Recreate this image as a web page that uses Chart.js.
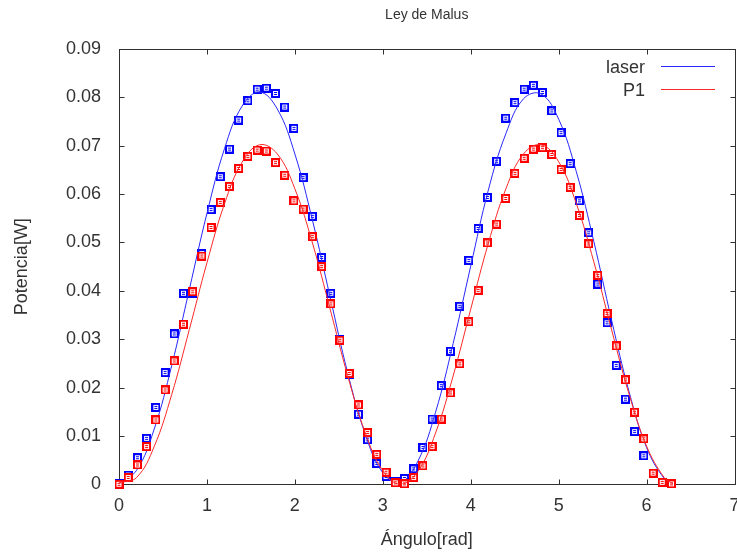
<!DOCTYPE html>
<html>
<head>
<meta charset="utf-8">
<script src="https://cdn.jsdelivr.net/npm/chart.js@4"></script>
<style>
html, body { margin: 0; padding: 0; background: #fff; overflow: hidden; }
canvas { display: block; }
</style>
</head>
<body>
<canvas id="malusChart" width="740" height="555"></canvas>
<script>
// measured angles (6 degree steps, in rad)
const angleRad = [0, 0.105, 0.209, 0.314, 0.419, 0.524, 0.628, 0.733, 0.838, 0.942,
    1.047, 1.152, 1.257, 1.361, 1.466, 1.571, 1.676, 1.780, 1.885, 1.990,
    2.094, 2.199, 2.304, 2.409, 2.513, 2.618, 2.723, 2.827, 2.932, 3.037,
    3.142, 3.246, 3.351, 3.456, 3.560, 3.665, 3.770, 3.875, 3.979, 4.084,
    4.189, 4.294, 4.398, 4.503, 4.608, 4.712, 4.817, 4.922, 5.027, 5.131,
    5.236, 5.341, 5.445, 5.550, 5.655, 5.760, 5.864, 5.969, 6.074, 6.178, 6.283];

const laserPower = [0.0002, 0.0019, 0.0055, 0.0095, 0.0159, 0.0231, 0.0311, 0.0395, 0.0395, 0.0477,
    0.0568, 0.0636, 0.0693, 0.0753, 0.0793, 0.0817, 0.0819, 0.0808, 0.0780, 0.0736,
    0.0634, 0.0554, 0.0469, 0.0395, 0.0300, 0.0226, 0.0145, 0.0092, 0.0043, 0.0016,
    0.0005, 0.0012, 0.0032, 0.0076, 0.0135, 0.0204, 0.0275, 0.0368, 0.0463, 0.0529,
    0.0593, 0.0668, 0.0757, 0.0789, 0.0817, 0.0825, 0.0810, 0.0772, 0.0727, 0.0663,
    0.0586, 0.0520, 0.0414, 0.0334, 0.0246, 0.0176, 0.0109, 0.0059, 0.0023, 0.0004, 0.0002];

const p1Power = [0.0000, 0.0014, 0.0040, 0.0078, 0.0133, 0.0195, 0.0255, 0.0331, 0.0398, 0.0472,
    0.0531, 0.0583, 0.0616, 0.0653, 0.0678, 0.0691, 0.0689, 0.0665, 0.0639, 0.0586,
    0.0569, 0.0512, 0.0450, 0.0373, 0.0298, 0.0229, 0.0164, 0.0107, 0.0062, 0.0025,
    0.0003, 0.0001, 0.0014, 0.0038, 0.0078, 0.0135, 0.0189, 0.0249, 0.0336, 0.0401,
    0.0499, 0.0538, 0.0591, 0.0643, 0.0674, 0.0693, 0.0696, 0.0682, 0.0651, 0.0614,
    0.0556, 0.0497, 0.0432, 0.0353, 0.0286, 0.0216, 0.0149, 0.0094, 0.0023, 0.0004, 0.0001];

// fitted curves
const fitAngle = [0, 0.2, 0.4, 0.6, 0.8, 1.0, 1.2, 1.4, 1.6, 1.8, 2.0, 2.2, 2.4, 2.6, 2.8, 3.0,
    3.2, 3.4, 3.6, 3.8, 4.0, 4.2, 4.4, 4.6, 4.8, 5.0, 5.2, 5.4, 5.6, 5.8, 6.0, 6.2, 6.3];
const laserFit = [0.0003, 0.0029, 0.0114, 0.0246, 0.0403, 0.0560, 0.0694, 0.0782, 0.0811, 0.0776,
    0.0683, 0.0546, 0.0388, 0.0231, 0.0104, 0.0024, 0.0004, 0.0048, 0.0149, 0.0291,
    0.0451, 0.0608, 0.0725, 0.0797, 0.0807, 0.0755, 0.0647, 0.0502, 0.0341, 0.0192,
    0.0076, 0.0012, 0.0003];
const p1Fit = [0.0003, 0.0014, 0.0078, 0.0186, 0.0320, 0.0458, 0.0580, 0.0666, 0.0702, 0.0683,
    0.0611, 0.0499, 0.0363, 0.0225, 0.0107, 0.0028, 0.0000, 0.0027, 0.0106, 0.0224,
    0.0362, 0.0498, 0.0611, 0.0683, 0.0702, 0.0667, 0.0581, 0.0460, 0.0321, 0.0187,
    0.0079, 0.0014, 0.0001];

const seriesNames = ["laser", "P1"];
const xTicks = [0, 1, 2, 3, 4, 5, 6, 7];
const yTicks = [0, 0.01, 0.02, 0.03, 0.04, 0.05, 0.06, 0.07, 0.08, 0.09];
const yTickLabels = ["0", "0.01", "0.02", "0.03", "0.04", "0.05", "0.06", "0.07", "0.08", "0.09"];

const fontFamily = "'Liberation Sans', Arial, sans-serif";
const textColor = "#333";
const blue = "#0000ff";
const red = "#ff0000";

function toPoints(xs, ys) {
    return xs.map((x, i) => ({ x: x, y: ys[i] }));
}

// gnuplot style errorbar marker: box with two small bars inside
function makeMarker(color) {
    const c = document.createElement("canvas");
    c.width = 9;
    c.height = 9;
    const g = c.getContext("2d");
    g.fillStyle = color;
    g.fillRect(0, 0, 9, 9);
    g.fillStyle = "#fff";
    g.fillRect(2, 2, 5, 5);
    g.fillStyle = color;
    g.fillRect(3, 3, 3, 1);
    g.fillRect(3, 5, 3, 1);
    return c;
}

// border + inward ticks on all four sides
const frameTicks = {
    id: "frameTicks",
    beforeDatasetsDraw(chart) {
        const { ctx, chartArea: a, scales: { x, y } } = chart;
        const L = Math.round(a.left) + 0.5, R = Math.round(a.right) + 0.5;
        const T = Math.round(a.top) + 0.5, B = Math.round(a.bottom) + 0.5;
        ctx.save();
        ctx.strokeStyle = "#303030";
        ctx.lineWidth = 1;
        ctx.strokeRect(L, T, R - L, B - T);
        ctx.beginPath();
        xTicks.forEach(v => {
            const px = Math.round(x.getPixelForValue(v)) + 0.5;
            ctx.moveTo(px, B); ctx.lineTo(px, B - 5);
            ctx.moveTo(px, T); ctx.lineTo(px, T + 5);
        });
        yTicks.forEach(v => {
            const py = Math.round(y.getPixelForValue(v)) + 0.5;
            ctx.moveTo(L, py); ctx.lineTo(L + 5, py);
            ctx.moveTo(R, py); ctx.lineTo(R - 5, py);
        });
        ctx.stroke();
        ctx.restore();
    }
};

// key in the top right corner, inside the plot
const keyBox = {
    id: "keyBox",
    afterDraw(chart) {
        const ctx = chart.ctx;
        const colors = ["rgb(40,40,255)", "rgb(255,40,40)"];
        ctx.save();
        ctx.font = "18px " + fontFamily;
        ctx.textAlign = "right";
        ctx.textBaseline = "alphabetic";
        seriesNames.forEach((name, i) => {
            const yy = 66.5 + i * 23;
            ctx.fillStyle = textColor;
            ctx.fillText(name, 645, yy + 6);
            ctx.strokeStyle = colors[i];
            ctx.lineWidth = 1;
            ctx.beginPath();
            ctx.moveTo(661, yy);
            ctx.lineTo(715, yy);
            ctx.stroke();
        });
        ctx.restore();
    }
};

const ctx = document.getElementById("malusChart").getContext("2d");
new Chart(ctx, {
    type: "scatter",
    data: {
        datasets: [
            {
                label: seriesNames[0] + " datos",
                data: toPoints(angleRad, laserPower),
                pointStyle: makeMarker(blue),
                pointRadius: 4.5,
                showLine: false,
                clip: false,
                order: 3
            },
            {
                label: seriesNames[0],
                data: toPoints(fitAngle, laserFit),
                showLine: true,
                borderColor: "rgb(40,40,255)",
                borderWidth: 1,
                pointRadius: 0,
                tension: 0.4,
                fill: false,
                order: 2
            },
            {
                label: seriesNames[1] + " datos",
                data: toPoints(angleRad, p1Power),
                pointStyle: makeMarker(red),
                pointRadius: 4.5,
                showLine: false,
                clip: false,
                order: 1
            },
            {
                label: seriesNames[1],
                data: toPoints(fitAngle, p1Fit),
                showLine: true,
                borderColor: "rgb(255,40,40)",
                borderWidth: 1,
                pointRadius: 0,
                tension: 0.4,
                fill: false,
                order: 0
            }
        ]
    },
    options: {
        responsive: false,
        animation: false,
        devicePixelRatio: 1,
        layout: { padding: { left: 0, right: 2.6, top: 0, bottom: 0 } },
        plugins: {
            legend: { display: false },
            tooltip: { enabled: false },
            title: {
                display: true,
                text: "Ley de Malus",
                fullSize: false,
                color: textColor,
                font: { family: fontFamily, size: 14, weight: "normal" },
                padding: { top: 6.6, bottom: 25.6 }
            }
        },
        scales: {
            x: {
                type: "linear",
                min: 0,
                max: 7,
                afterBuildTicks: s => { s.ticks = xTicks.map(v => ({ value: v })); },
                afterFit: s => { s.height = 70.7; s.paddingLeft = 0; s.paddingRight = 0; },
                grid: { display: false, drawTicks: false },
                border: { display: false },
                ticks: {
                    padding: 11,
                    color: textColor,
                    autoSkip: false,
                    maxRotation: 0,
                    font: { family: fontFamily, size: 18 },
                    callback: v => String(v)
                },
                title: {
                    display: true,
                    text: "Ángulo[rad]",
                    color: textColor,
                    font: { family: fontFamily, size: 18 },
                    padding: { top: 0, bottom: 4.2 }
                }
            },
            y: {
                type: "linear",
                min: 0,
                max: 0.09,
                afterBuildTicks: s => { s.ticks = yTicks.map(v => ({ value: v })); },
                afterFit: s => { s.width = 119; s.paddingTop = 0; s.paddingBottom = 0; },
                grid: { display: false, drawTicks: false },
                border: { display: false },
                ticks: {
                    padding: 18,
                    color: textColor,
                    autoSkip: false,
                    font: { family: fontFamily, size: 18 },
                    callback: (v, i) => yTickLabels[i]
                },
                title: {
                    display: true,
                    text: "Potencia[W]",
                    color: textColor,
                    font: { family: fontFamily, size: 18 },
                    padding: { top: 11.2, bottom: 0 }
                }
            }
        }
    },
    plugins: [frameTicks, keyBox]
});
</script>
</body>
</html>
